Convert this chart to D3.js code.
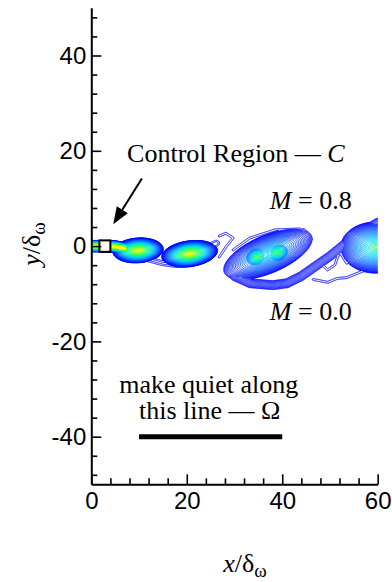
<!DOCTYPE html>
<html>
<head>
<meta charset="utf-8">
<script src="https://cdn.jsdelivr.net/npm/d3@7"></script>
<style>
  body { margin: 0; background: #fff; }
  svg { display: block; }
  .note { font-family: "Liberation Serif", "Times New Roman", serif; font-size: 26px; fill: #000; }
</style>
</head>
<body>
<div id="chart"></div>
<script>
// ticks
const xTicks = [0, 20, 40, 60];
const yTicks = [-40, -20, 0, 20, 40];
const xMinor = [4, 8, 12, 16, 24, 28, 32, 36, 44, 48, 52, 56];
const yMinor = [-48, -44, -36, -32, -28, -24, -16, -12, -8, -4, 4, 8, 12, 16, 24, 28, 32, 36, 44, 48];

// rolled-up vortex cores (x, y in delta_omega), half length / half width, tilt (deg), peak vorticity
const coreX    = [9.8, 20.6, 37.0, 34.8, 38.9, 59.6];
const coreY    = [-0.9, -1.6, -1.7, -2.3, -1.3, -0.3];
const coreA    = [5.3, 5.9, 10.0, 3.6, 3.6, 7.4];
const coreB    = [2.6, 2.7, 4.0, 2.5, 2.5, 5.4];
const coreTilt = [4, 8, 23, 23, 23, 0];
const corePeak = [0.9, 0.9, 0.55, 0.72, 0.72, 0.66];

// thin shear layer, braids and loose filaments as polylines
const sheetX = [
  [-1, 2, 5, 7],
  [23.5, 26.2],
  [12, 15, 18, 21],
  [26.8, 28.2, 29.7, 28.2, 26.8],
  [29.7, 33.2, 38.5, 43.7, 45.8],
  [30, 33.3, 38, 41, 44, 50, 55.2, 60, 62.5],
  [46.5, 49.5, 51.5, 53.5, 56, 58.5],
  [47.5, 49.5, 51, 52, 53.5, 55.5],
  [42, 44.5, 46, 45]
];
const sheetY = [
  [0, 0, -0.1, -0.5],
  [-0.6, 0.6],
  [-2.8, -3.6, -4.0, -3.8],
  [2.1, 2.7, 1.7, -0.2, -2.3],
  [-0.8, 1.7, 3.4, 3.6, 2.1],
  [-6.3, -7.8, -8.2, -7.8, -6.3, -2.1, 2.1, 4.9, 5.6],
  [-7.0, -7.6, -6.8, -6.6, -5.6, -4.6],
  [-3.0, -5.0, -4.0, -1.2, -3.6, -2.2],
  [3.0, 3.3, 1.5, -0.5]
];
const sheetW    = [1.2, 0.8, 0.7, 0.45, 0.45, 1.0, 0.45, 0.45, 0.5];
const sheetPeak = [0.95, 0.06, 0.05, 0.03, 0.03, 0.13, 0.03, 0.03, 0.05];

const levels = d3.range(0.02, 0.95, 0.02);

const svg = d3.select('#chart').append('svg')
    .attr('width', 392)
    .attr('height', 582);

const x = d3.scaleLinear().domain([0, 60]).range([91.3, 377.7]);
const y = d3.scaleLinear().domain([-40, 40]).range([436.7, 55.5]);

function segDist(px, py, ax, ay, bx, by) {
    const dx = bx - ax, dy = by - ay;
    let t = ((px - ax) * dx + (py - ay) * dy) / (dx * dx + dy * dy);
    t = Math.max(0, Math.min(1, t));
    const ex = ax + t * dx - px, ey = ay + t * dy - py;
    return Math.sqrt(ex * ex + ey * ey);
}

// steep-edged profile: 1 at the centre, 0 at the edge
function profile(r) {
    return r >= 1 ? 0 : Math.pow(1 - r, 0.7);
}

function vort(px, py) {
    let w = 0;
    for (let k = 0; k < coreX.length; k++) {
        const t = coreTilt[k] * Math.PI / 180;
        const dx = px - coreX[k], dy = py - coreY[k];
        const u = (dx * Math.cos(t) + dy * Math.sin(t)) / coreA[k];
        const v = (-dx * Math.sin(t) + dy * Math.cos(t)) / coreB[k];
        w = Math.max(w, corePeak[k] * profile(Math.sqrt(u * u + v * v)));
    }
    for (let k = 0; k < sheetX.length; k++) {
        const xs = sheetX[k], ys = sheetY[k];
        let d = Infinity;
        for (let i = 0; i < xs.length - 1; i++) {
            d = Math.min(d, segDist(px, py, xs[i], ys[i], xs[i + 1], ys[i + 1]));
        }
        w = Math.max(w, sheetPeak[k] * profile(d / sheetW[k]));
    }
    return w;
}

// sample the field
const gx0 = -1, gy1 = 10, step = 0.08;
const nx = 801, ny = 289;
const field = new Float64Array(nx * ny);
for (let j = 0; j < ny; j++) {
    for (let i = 0; i < nx; i++) {
        field[j * nx + i] = vort(gx0 + i * step, gy1 - j * step);
    }
}

const contours = d3.contours().size([nx, ny]).thresholds(levels)(field);
const path = d3.geoPath(d3.geoTransform({
    point: function (px, py) {
        this.stream.point(x(gx0 + (px - 0.5) * step), y(gy1 - (py - 0.5) * step));
    }
}));

const color = d3.scaleLinear()
    .domain([0, 0.2, 0.35, 0.5, 0.62, 0.78, 0.9])
    .range(['#0000ff', '#0028ff', '#0078ff', '#00ccff', '#00ff90', '#90ff20', '#ffff00'])
    .clamp(true);

svg.append('clipPath').attr('id', 'plot-clip')
    .append('rect')
    .attr('x', x(0)).attr('y', y(50))
    .attr('width', x(60) - x(0)).attr('height', y(-50) - y(50));

svg.append('g')
    .attr('clip-path', 'url(#plot-clip)')
    .selectAll('path')
    .data(contours)
    .enter()
    .append('path')
    .attr('d', path)
    .attr('fill', 'none')
    .attr('stroke', d => color(d.value))
    .attr('stroke-width', 1);

// control region box
svg.append('rect')
    .attr('x', x(1.7)).attr('y', y(1.2))
    .attr('width', x(4.0) - x(1.7)).attr('height', y(-1.2) - y(1.2))
    .attr('fill', '#fff').attr('stroke', '#000').attr('stroke-width', 2);

// arrow pointing at the control region
const ax0 = x(10.6), ay0 = y(14.2), ax1 = x(4.6), ay1 = y(4.6);
const ang = Math.atan2(ay1 - ay0, ax1 - ax0);
const headLen = 17, headW = 6.5;
const bx = ax1 - headLen * Math.cos(ang), by = ay1 - headLen * Math.sin(ang);
svg.append('line')
    .attr('x1', ax0).attr('y1', ay0).attr('x2', bx).attr('y2', by)
    .attr('stroke', '#000').attr('stroke-width', 2);
svg.append('path')
    .attr('d', `M${ax1},${ay1}L${bx + headW * Math.sin(ang)},${by - headW * Math.cos(ang)}L${bx - headW * Math.sin(ang)},${by + headW * Math.cos(ang)}Z`)
    .attr('fill', '#000');

// quiet line
svg.append('line')
    .attr('x1', x(10)).attr('x2', x(40))
    .attr('y1', y(-40)).attr('y2', y(-40))
    .attr('stroke', '#000').attr('stroke-width', 5);

// annotations
const t1 = svg.append('text').attr('class', 'note').attr('x', x(7.5)).attr('y', y(17.65));
t1.append('tspan').text('Control Region \u2014 ');
t1.append('tspan').attr('font-style', 'italic').text('C');

const m1 = svg.append('text').attr('class', 'note').attr('x', x(37.4)).attr('y', y(7.8));
m1.append('tspan').attr('font-style', 'italic').text('M');
m1.append('tspan').text(' = 0.8');

const m2 = svg.append('text').attr('class', 'note').attr('x', x(37.4)).attr('y', y(-15.5));
m2.append('tspan').attr('font-style', 'italic').text('M');
m2.append('tspan').text(' = 0.0');

svg.append('text').attr('class', 'note')
    .attr('x', x(24.6)).attr('y', y(-30.8))
    .attr('text-anchor', 'middle')
    .text('make quiet along');
svg.append('text').attr('class', 'note')
    .attr('x', x(24.8)).attr('y', y(-36.3))
    .attr('text-anchor', 'middle')
    .text('this line \u2014 \u03A9');

// axes
function styleAxis(g) {
    g.selectAll('.domain').attr('stroke-width', 2);
    g.selectAll('.tick line').attr('stroke-width', 1.6);
    g.selectAll('.tick text')
        .attr('font-family', '"Liberation Sans", Arial, sans-serif')
        .attr('font-size', 24)
        .attr('fill', '#000');
}

svg.append('g')
    .attr('transform', `translate(0,${y(-50)})`)
    .call(d3.axisBottom(x).tickValues(xMinor).tickSize(-6).tickSizeOuter(0).tickFormat(''))
    .call(g => g.select('.domain').remove())
    .call(styleAxis);
svg.append('g')
    .attr('transform', `translate(0,${y(-50)})`)
    .call(d3.axisBottom(x).tickValues(xTicks).tickSize(-10).tickSizeOuter(0).tickPadding(8).tickFormat(d3.format('d')))
    .call(styleAxis);

const yAxisScale = y.copy().domain([-50, 50]).range([y(-50), y(50)]);
svg.append('g')
    .attr('transform', `translate(${x(0)},0)`)
    .call(d3.axisLeft(yAxisScale).tickValues(yMinor).tickSize(-6).tickSizeOuter(0).tickFormat(''))
    .call(g => g.select('.domain').remove())
    .call(styleAxis);
svg.append('g')
    .attr('transform', `translate(${x(0)},0)`)
    .call(d3.axisLeft(yAxisScale).tickValues(yTicks).tickSize(-10).tickSizeOuter(0).tickPadding(5).tickFormat(d => d < 0 ? '-' + Math.abs(d) : String(d)))
    .call(styleAxis);

// axis titles
const xt = svg.append('text').attr('class', 'note')
    .attr('x', 245).attr('y', 572)
    .attr('text-anchor', 'middle')
    .attr('font-size', 28);
xt.append('tspan').attr('font-style', 'italic').text('x');
xt.append('tspan').text('/\u03B4');
xt.append('tspan').attr('font-size', 19).attr('dy', 5).text('\u03C9');

const yt = svg.append('text').attr('class', 'note')
    .attr('transform', 'translate(40,244) rotate(-90)')
    .attr('text-anchor', 'middle')
    .attr('font-size', 28);
yt.append('tspan').attr('font-style', 'italic').text('y');
yt.append('tspan').text('/\u03B4');
yt.append('tspan').attr('font-size', 19).attr('dy', 5).text('\u03C9');
</script>
</body>
</html>
